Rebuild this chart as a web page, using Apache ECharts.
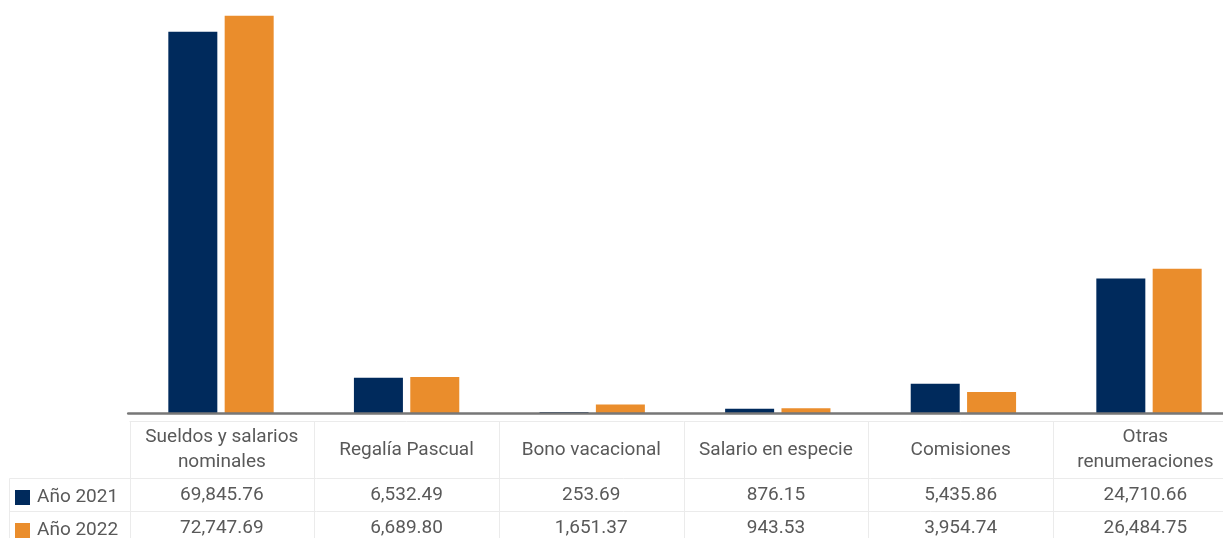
<!DOCTYPE html>
<html>
<head>
<meta charset="utf-8">
<script src="https://cdn.jsdelivr.net/npm/echarts@6/dist/echarts.min.js"></script>
<style>
html,body{margin:0;padding:0;background:#fff;overflow:hidden;}
#chart{width:1242px;height:538px;}
</style>
</head>
<body>
<div id="chart"></div>
<script>
const categories = ['Sueldos y salarios\nnominales', 'Regalía Pascual', 'Bono vacacional', 'Salario en especie', 'Comisiones', 'Otras\nrenumeraciones'];
const seriesNames = ['Año 2021', 'Año 2022'];
const values2021 = [69845.76, 6532.49, 253.69, 876.15, 5435.86, 24710.66];
const values2022 = [72747.69, 6689.80, 1651.37, 943.53, 3954.74, 26484.75];
const colors = ['#002a5c', '#ea8d2c'];

const FONT = 'Roboto';
const TXT = '#595959';
const LINE = '#ebebeb';
const FS = 19;
const fmt = v => v.toLocaleString('en-US', {minimumFractionDigits: 2, maximumFractionDigits: 2});

const chart = echarts.init(document.getElementById('chart'), null, {renderer: 'canvas'});

function labelAxis(margin, formatter, data) {
  return {
    type: 'category', gridIndex: 1, position: 'bottom', data: data || categories,
    axisLine: {show: false}, axisTick: {show: false}, splitLine: {show: false},
    axisLabel: {
      show: true, interval: 0, margin: margin, verticalAlign: 'middle', hideOverlap: false,
      color: TXT, fontFamily: FONT, fontSize: FS, lineHeight: 25, formatter: formatter
    }
  };
}

function legendItem(name, top) {
  return {
    orient: 'vertical', left: 15, top: top, padding: 0,
    itemWidth: 15, itemHeight: 15, itemGap: 0, icon: 'rect',
    data: [name], selectedMode: false,
    textStyle: {color: TXT, fontFamily: FONT, fontSize: FS, padding: [0, 0, 0, 2]}
  };
}

const headerData = categories.map(c => c.indexOf('\n') >= 0
  ? {value: c, textStyle: {verticalAlign: 'middle', lineHeight: 25, fontSize: FS, fontFamily: FONT, color: TXT, padding: [6, 0, 0, 0]}}
  : c);

const option = {
  backgroundColor: '#fff',
  animation: false,
  color: colors,
  legend: [legendItem(seriesNames[0], 488), legendItem(seriesNames[1], 521)],
  grid: [
    {left: 128.2, width: 1113.6, top: 3.5, height: 410, containLabel: false, outerBoundsMode: 'none'},
    {left: 129.5, width: 1108.2, top: 400, height: 21, containLabel: false, outerBoundsMode: 'none'}
  ],
  xAxis: [
    {
      type: 'category', gridIndex: 0, data: categories, z: 10,
      axisLine: {show: true, lineStyle: {color: '#777777', width: 2.5}},
      axisTick: {show: false}, axisLabel: {show: false}, splitLine: {show: false}
    },
    labelAxis(29, v => v, headerData),
    labelAxis(74, (v, i) => fmt(values2021[i])),
    labelAxis(107, (v, i) => fmt(values2022[i]))
  ],
  yAxis: [
    {type: 'value', gridIndex: 0, min: 0, max: 75000, show: false},
    {type: 'value', gridIndex: 1, show: false}
  ],
  series: [
    {name: seriesNames[0], type: 'bar', xAxisIndex: 0, yAxisIndex: 0, data: values2021, barWidth: 49, barGap: '15%'},
    {name: seriesNames[1], type: 'bar', xAxisIndex: 0, yAxisIndex: 0, data: values2022, barWidth: 49, barGap: '15%'}
  ]
};
chart.setOption(option);

// Table grid lines derived from the table axis
const centers = categories.map((c, i) => chart.convertToPixel({xAxisIndex: 2}, i));
const band = (centers[centers.length - 1] - centers[0]) / (centers.length - 1);
const left = centers[0] - band / 2;
const right = centers[centers.length - 1] + band / 2;
const yTop = 421.5, yH = 478.5, yR1 = 511.5, yBot = 540, xLeg = 9.5;
const lines = [];
const seg = (x1, y1, x2, y2) => lines.push({type: 'line', silent: true, shape: {x1, y1, x2, y2}, style: {stroke: LINE, lineWidth: 1}});
seg(left, yTop, right, yTop);
seg(xLeg, yH, right, yH);
seg(xLeg, yR1, right, yR1);
seg(xLeg, yH, xLeg, yBot);
for (let k = 0; k <= categories.length; k++) {
  const x = Math.round(left + k * band) + 0.5;
  seg(x, yTop, x, yBot);
}
chart.setOption({graphic: [{type: 'group', z: -1, children: lines}]});
</script>
</body>
</html>
